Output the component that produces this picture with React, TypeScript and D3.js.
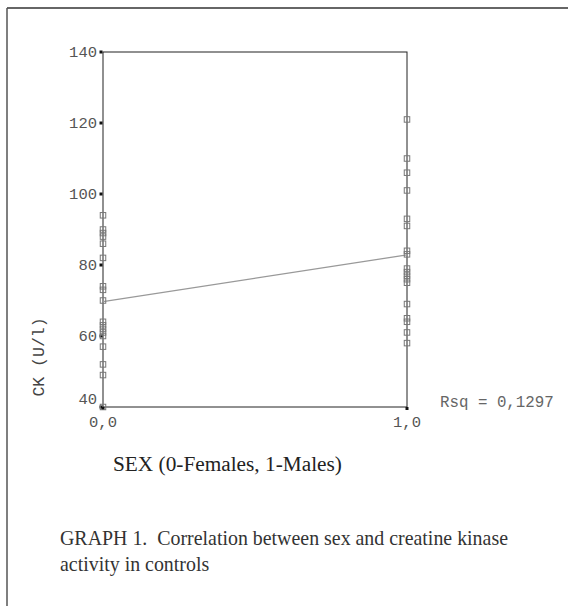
import React from 'react'
import * as d3 from 'd3'

// CK values (U/l), sex 0 = females, 1 = males
const femaleCK = [94, 90, 89, 88, 86, 82, 74, 73, 70, 64, 63, 62, 61, 60, 57, 52, 49, 40]
const maleCK = [121, 110, 106, 101, 93, 91, 84, 83, 79, 78, 77, 76, 75, 69, 65, 64, 61, 58]
const yTicks = [40, 60, 80, 100, 120, 140]
const xTicks = [0, 1]
const xTickLabels = ['0,0', '1,0']
const rsqLabel = 'Rsq = 0,1297'

const W = 568
const H = 606
const mono = '"Liberation Mono", "DejaVu Sans Mono", monospace'
const serif = '"Liberation Serif", "DejaVu Serif", serif'

const App = () => {
    const x = d3.scaleLinear().domain([0, 1]).range([103, 407])
    const y = d3.scaleLinear().domain([40, 140]).range([407, 52])

    // least squares fit with a 0/1 predictor: intercept = female mean, slope = difference of means
    const b0 = d3.mean(femaleCK) as number
    const b1 = (d3.mean(maleCK) as number) - b0
    const fit = xTicks.map(v => [x(v), y(b0 + b1 * v)] as [number, number])
    const line = d3.line()

    const points = [
        ...femaleCK.map(v => ({sex: 0, ck: v})),
        ...maleCK.map(v => ({sex: 1, ck: v})),
    ]
    const s = 5.5

    return (
        <svg width={W} height={H} style={{position: 'absolute', left: 0, top: 0, background: '#fff'}}>
            {/* page frame */}
            <line x1={7} y1={8} x2={W} y2={8} stroke="#333" strokeWidth={1.5} />
            <line x1={7} y1={8} x2={7} y2={H} stroke="#555" strokeWidth={1.5} />

            {/* plot frame */}
            <rect x={x(0)} y={y(140)} width={x(1) - x(0)} height={y(40) - y(140)}
                fill="none" stroke="#222" strokeWidth={1} />

            {/* y ticks; the bottom label sits a little higher, as in the original */}
            {yTicks.map(t => (
                <g key={t}>
                    <rect x={x(0) - 3.5} y={y(t) - 1.5} width={3} height={3} fill="#111" />
                    <text x={x(0) - 6} y={y(t) - (t === 40 ? 8 : 0)} dy="0.35em" textAnchor="end"
                        fontFamily={mono} fontSize={15.5} fill="#555">{t}</text>
                </g>
            ))}

            {/* x ticks */}
            {xTicks.map((t, i) => (
                <g key={t}>
                    <rect x={x(t) - 1.5} y={y(40)} width={3} height={3} fill="#111" />
                    <text x={x(t)} y={y(40) + 20} textAnchor="middle"
                        fontFamily={mono} fontSize={15.5} fill="#555">{xTickLabels[i]}</text>
                </g>
            ))}

            {/* regression line */}
            <path d={line(fit) || ''} fill="none" stroke="#999" strokeWidth={1.2} />

            {/* observations */}
            {points.map((p, i) => (
                <rect key={i} x={x(p.sex) - s / 2} y={y(p.ck) - s / 2} width={s} height={s}
                    fill="none" stroke="#777" strokeWidth={1} />
            ))}

            <text x={440} y={407} fontFamily={mono} fontSize={15.8} fill="#666">{rsqLabel}</text>

            {/* axis titles */}
            <text transform="translate(44,357) rotate(-90)" textAnchor="middle"
                fontFamily={mono} fontSize={16.5} fill="#444">CK (U/l)</text>
            <text x={113} y={471} fontFamily={serif} fontSize={21.3} fill="#222">SEX (0-Females, 1-Males)</text>

            {/* caption */}
            <text x={60} y={545} fontFamily={serif} fontSize={19.9} fill="#333"
                style={{whiteSpace: 'pre'}}>GRAPH 1.  Correlation between sex and creatine kinase</text>
            <text x={60} y={571} fontFamily={serif} fontSize={19.9} fill="#333">activity in controls</text>
        </svg>
    )
}

export default App
